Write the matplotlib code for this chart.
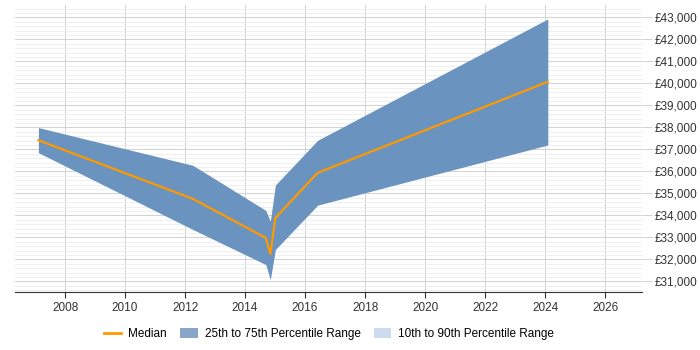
import matplotlib
matplotlib.use("Agg")
import matplotlib.pyplot as plt
from matplotlib.patches import Patch
from matplotlib.lines import Line2D
from matplotlib.ticker import MultipleLocator, FuncFormatter

plt.rcParams['font.family'] = ['Liberation Sans', 'DejaVu Sans']

# values
years = [2007.11, 2012.26, 2014.69, 2014.84, 2015.01, 2016.42, 2024.09]
p25 = [36850, 33360, 31765, 31082, 32449, 34467, 37200]
median = [37415, 34754, 32977, 32248, 33888, 35938, 40071]
p75 = [37990, 36275, 34226, 33738, 35380, 37415, 42927]

fig = plt.figure(figsize=(7, 3.5), dpi=100)
ax = fig.add_axes([15 / 700, 58 / 350, 627 / 700, 287 / 350])

ax.fill_between(years, p25, p75, color='#6a93bf', linewidth=0, zorder=2)
ax.plot(years, median, color='#ff9900', linewidth=1.6, zorder=3)

ax.set_xlim(2006.33, 2027.23)
ax.set_ylim(30520, 43560)
ax.xaxis.set_major_locator(MultipleLocator(2))
ax.yaxis.set_major_locator(MultipleLocator(1000))
ax.yaxis.set_minor_locator(MultipleLocator(200))
ax.yaxis.set_major_formatter(FuncFormatter(lambda v, p: '£{:,.0f}'.format(v)))

ax.grid(True, which='major', axis='both', color='#d2d2d2', linewidth=0.7, zorder=0)
ax.grid(True, which='minor', axis='y', color='#ededed', linewidth=0.6, zorder=0)
ax.set_axisbelow(True)

ax.yaxis.tick_right()
ax.tick_params(axis='y', which='major', length=7, width=0.7, color='#d2d2d2', labelsize=8.5,
               labelcolor='#333333', pad=2)
ax.tick_params(axis='y', which='minor', length=0)
ax.tick_params(axis='x', length=4, color='#333333', labelsize=8.5, labelcolor='#333333')

for s in ['top', 'right', 'left']:
    ax.spines[s].set_visible(False)
ax.spines['bottom'].set_color('#333333')

handles = [
    Line2D([0], [0], color='#ff9900', linewidth=2),
    Patch(facecolor='#88a6c8', edgecolor='none'),
    Patch(facecolor='#ccdcee', edgecolor='none'),
]
labels = ['Median', '25th to 75th Percentile Range', '10th to 90th Percentile Range']
fig.legend(handles, labels, loc='center', bbox_to_anchor=(329 / 700, 16 / 350), ncol=3,
           frameon=False, fontsize=8.5, handlelength=1.5, handleheight=0.9,
           columnspacing=1.1, handletextpad=0.6)

fig.savefig('out.png', dpi=100)
